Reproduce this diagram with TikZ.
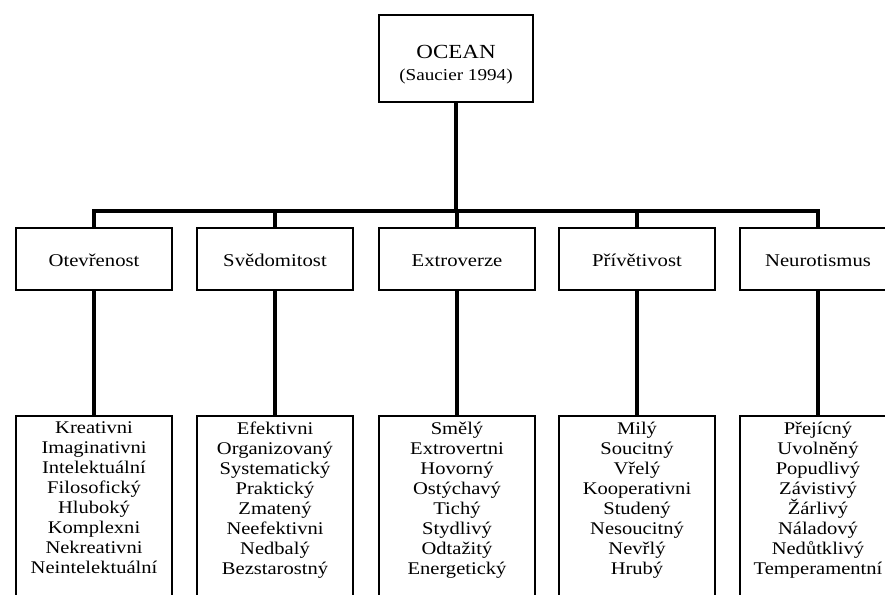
\documentclass[tikz,border=0pt]{standalone}
\usepackage{fontspec}
\setmainfont{Liberation Serif}[FakeStretch=1.15]
\newcommand{\traitlist}[1]{\parbox[t][150pt][t]{117pt}{\centering\fontsize{13.4}{15}\selectfont #1}}
\tikzset{
  topbox/.style={draw, line width=1.2pt, minimum width=115.5pt, minimum height=65pt, align=center, font=\fontsize{15}{17}\selectfont},
  factor/.style={draw, line width=1.2pt, minimum width=117pt, minimum height=46.5pt, font=\fontsize{13.5}{15}\selectfont},
  leaf/.style={draw, line width=1.2pt, anchor=north, inner xsep=0pt, inner ysep=4.5pt},
  link/.style={line width=3pt}
}
\begin{document}
\begin{tikzpicture}[x=0.75pt, y=-0.75pt]
\useasboundingbox (0,0) rectangle (885,594);
\clip (0,0) rectangle (885,594);

% model
\node[topbox] (ocean) at (456,58.5) {\rule{0pt}{19pt}OCEAN\\[-1pt]{\fontsize{12.5}{14}\selectfont (Saucier 1994)}};

% faktory
\node[factor] (o2) at (94,259) {\rule{0pt}{12pt}Otevřenost};
\node[factor] (s2) at (275,259) {\rule{0pt}{12pt}Svědomitost};
\node[factor] (e2) at (457,259) {\rule{0pt}{12pt}Extroverze};
\node[factor] (p2) at (637,259) {\rule{0pt}{12pt}Přívětivost};
\node[factor] (n2) at (818,259) {\rule{0pt}{12pt}Neurotismus};

% vlastnosti
\node[leaf] (o3) at (94,415) {\traitlist{Kreativni\\Imaginativni\\Intelektuální\\Filosofický\\Hluboký\\Komplexni\\Nekreativni\\Neintelektuální}};
\node[leaf] (s3) at (275,415) {\traitlist{Efektivni\\Organizovaný\\Systematický\\Praktický\\Zmatený\\Neefektivni\\Nedbalý\\Bezstarostný}};
\node[leaf] (e3) at (457,415) {\traitlist{Smělý\\Extrovertni\\Hovorný\\Ostýchavý\\Tichý\\Stydlivý\\Odtažitý\\Energetický}};
\node[leaf] (p3) at (637,415) {\traitlist{Milý\\Soucitný\\Vřelý\\Kooperativni\\Studený\\Nesoucitný\\Nevřlý\\Hrubý}};
\node[leaf] (n3) at (818,415) {\traitlist{Přejícný\\Uvolněný\\Popudlivý\\Závistivý\\Žárlivý\\Náladový\\Nedůtklivý\\Temperamentní}};

% spojnice
\foreach \n in {o,s,e,p,n}{
  \draw[link] (\n2.north) -- ++(0,-16) -| (ocean.south);
  \draw[link] (\n2.south) -- (\n3.north);
}
\end{tikzpicture}
\end{document}
